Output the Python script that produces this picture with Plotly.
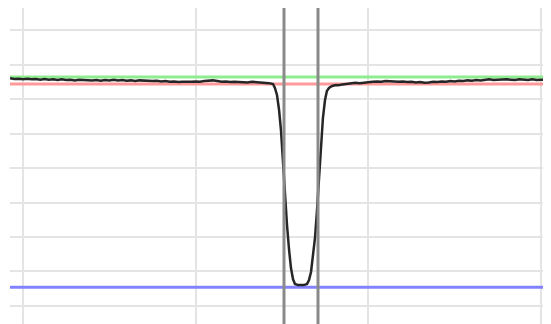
import plotly.graph_objects as go

# Time (hours) and relative signal (grid units)
time_left = [-0.075, -0.05, -0.025, 0.0, 0.025, 0.05, 0.075, 0.1, 0.125, 0.15, 0.175, 0.2, 0.225, 0.25,
             0.275, 0.3, 0.325, 0.35, 0.375, 0.4, 0.425, 0.45, 0.475, 0.5, 0.525, 0.55, 0.575, 0.6,
             0.625, 0.65, 0.675, 0.7, 0.725, 0.75, 0.775, 0.8, 0.825, 0.85, 0.875, 0.9, 0.925, 0.95,
             0.975, 1.0, 1.025, 1.05, 1.075, 1.1, 1.125, 1.15, 1.175, 1.2, 1.225, 1.25, 1.275, 1.3,
             1.325, 1.35, 1.375, 1.4, 1.425]
flux_left = [6.60, 6.58, 6.59, 6.57, 6.59, 6.57, 6.58, 6.56, 6.58, 6.56, 6.57, 6.55, 6.57, 6.55,
             6.56, 6.54, 6.56, 6.55, 6.56, 6.54, 6.55, 6.53, 6.55, 6.54, 6.56, 6.54, 6.55, 6.53,
             6.54, 6.52, 6.54, 6.53, 6.54, 6.52, 6.53, 6.51, 6.52, 6.50, 6.51, 6.49, 6.50, 6.49,
             6.50, 6.51, 6.50, 6.52, 6.53, 6.54, 6.52, 6.50, 6.51, 6.49, 6.50, 6.49, 6.50, 6.48,
             6.50, 6.49, 6.50, 6.48, 6.46]

time_dip = [1.448, 1.459, 1.471, 1.483, 1.494, 1.506, 1.517, 1.529, 1.541, 1.552, 1.564, 1.575,
            1.593, 1.610, 1.627, 1.645, 1.656, 1.668, 1.679, 1.691, 1.702, 1.714, 1.726, 1.737,
            1.749, 1.760, 1.772, 1.790, 1.813]
flux_dip = [6.435, 6.319, 6.116, 5.681, 5.101, 4.087, 3.072, 2.348, 1.623, 1.101, 0.774, 0.640,
            0.605, 0.595, 0.605, 0.640, 0.745, 0.986, 1.391, 1.971, 2.725, 3.652, 4.580, 5.449,
            5.971, 6.232, 6.319, 6.377, 6.406]

time_right = [1.825, 1.85, 1.875, 1.9, 1.925, 1.95, 1.975, 2.0, 2.025, 2.05, 2.075, 2.1, 2.125, 2.15,
              2.175, 2.2, 2.225, 2.25, 2.275, 2.3, 2.325, 2.35, 2.375, 2.4, 2.425, 2.45, 2.475, 2.5,
              2.525, 2.55, 2.575, 2.6, 2.625, 2.65, 2.675, 2.7, 2.725, 2.75, 2.775, 2.8, 2.825, 2.85,
              2.875, 2.9, 2.925, 2.95, 2.975, 3.0, 3.025, 3.05, 3.06]
flux_right = [6.40, 6.42, 6.44, 6.45, 6.47, 6.46, 6.48, 6.49, 6.50, 6.51, 6.50, 6.52, 6.51, 6.52,
              6.50, 6.51, 6.49, 6.50, 6.48, 6.49, 6.47, 6.48, 6.50, 6.49, 6.51, 6.50, 6.52, 6.51,
              6.53, 6.52, 6.54, 6.53, 6.55, 6.54, 6.56, 6.57, 6.55, 6.56, 6.55, 6.57, 6.56, 6.55,
              6.57, 6.56, 6.55, 6.57, 6.55, 6.56, 6.55, 6.56, 6.55]

level_green = 6.638
level_red = 6.435
level_blue = 0.542
marker_times = [1.5115, 1.7085]

x_range = [-0.0753, 3.0579]
y_range = [-0.522, 8.638]
x_ticks = [0, 1, 2, 3]
y_ticks = [0, 1, 2, 3, 4, 5, 6, 7, 8]

times = time_left + time_dip + time_right
flux = flux_left + flux_dip + flux_right

fig = go.Figure()
for lvl, col in [(level_green, "#90ec90"), (level_red, "#ff9a9a"), (level_blue, "#8282ff")]:
    fig.add_trace(go.Scatter(x=x_range, y=[lvl, lvl], mode="lines",
                             line=dict(color=col, width=3), hoverinfo="skip"))

fig.add_trace(go.Scatter(x=times, y=flux, mode="lines",
                         line=dict(color="#262626", width=2.5), hoverinfo="skip"))

for t in marker_times:
    fig.add_shape(type="line", x0=t, x1=t, y0=0, y1=1, xref="x", yref="paper",
                  line=dict(color="#8a8a8a", width=3), layer="above")

fig.update_layout(
    width=543, height=316,
    margin=dict(l=2, r=0, t=0, b=0),
    paper_bgcolor="white", plot_bgcolor="white",
    showlegend=False,
    xaxis=dict(range=x_range, tickvals=x_ticks, showticklabels=False, showgrid=True,
               gridcolor="#e4e4e4", gridwidth=2, zeroline=False, showline=False, ticks=""),
    yaxis=dict(range=y_range, tickvals=y_ticks, showticklabels=False, showgrid=True,
               gridcolor="#e4e4e4", gridwidth=2, zeroline=False, showline=False, ticks=""),
)

fig.write_html("out.html")
